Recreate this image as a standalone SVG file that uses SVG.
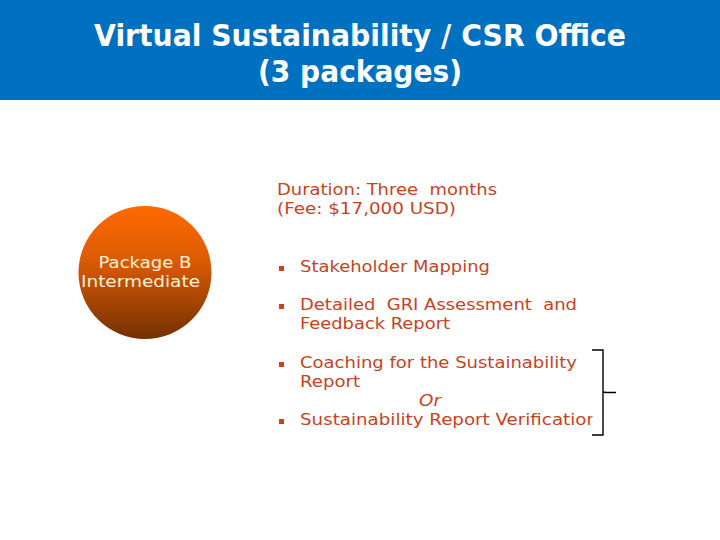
<svg xmlns="http://www.w3.org/2000/svg" width="720" height="540" viewBox="0 0 720 540">
<style>
text{font-family:"DejaVu Sans",Verdana,sans-serif;white-space:pre}
.t{font-size:29.500px;font-weight:bold;fill:#fff;text-anchor:middle}
.b{font-size:16.500px;fill:#c8421c}
.c{font-size:16.500px;fill:#fff2d8;text-anchor:middle}
.m{fill:#d2401c}
.l{fill:none;stroke:#000;stroke-width:1.4}
</style>
<defs><linearGradient id="g" x1="0" y1="0" x2="0" y2="1"><stop offset="0" stop-color="#ff6a00"/><stop offset="0.4" stop-color="#dc5c04"/><stop offset="1" stop-color="#743002"/></linearGradient>
<clipPath id="cut"><rect x="270" y="408" width="322.500" height="26"/></clipPath></defs>
<rect width="720" height="540" fill="#fff"/>
<g id="header"><rect width="720" height="100" fill="#0070c0"/>
<text class="t" x="360" y="46" textLength="532" lengthAdjust="spacingAndGlyphs">Virtual Sustainability / CSR Office</text>
<text class="t" x="360" y="82" textLength="204" lengthAdjust="spacingAndGlyphs">(3 packages)</text></g>
<g id="package-b"><circle cx="145" cy="272.500" r="66.500" fill="url(#g)"/>
<text class="c" x="145" y="268" textLength="93" lengthAdjust="spacingAndGlyphs">Package B</text>
<text class="c" x="140.500" y="287" textLength="119" lengthAdjust="spacingAndGlyphs">Intermediate</text></g>
<g id="details">
<text class="b" x="277" y="195" textLength="220" lengthAdjust="spacingAndGlyphs">Duration: Three  months</text>
<text class="b" x="277" y="214" textLength="179" lengthAdjust="spacingAndGlyphs">(Fee: $17,000 USD)</text>
<rect class="m" x="279" y="266" width="5" height="5"/>
<text class="b" x="300" y="272" textLength="190" lengthAdjust="spacingAndGlyphs">Stakeholder Mapping</text>
<rect class="m" x="279" y="304" width="5" height="5"/>
<text class="b" x="300" y="310" textLength="277" lengthAdjust="spacingAndGlyphs">Detailed  GRI Assessment  and</text>
<text class="b" x="300" y="329" textLength="150" lengthAdjust="spacingAndGlyphs">Feedback Report</text>
<rect class="m" x="279" y="362" width="5" height="5"/>
<text class="b" x="300" y="368" textLength="277" lengthAdjust="spacingAndGlyphs">Coaching for the Sustainability</text>
<text class="b" x="300" y="387" textLength="60" lengthAdjust="spacingAndGlyphs">Report</text>
<text class="b" x="419" y="406" font-style="italic" textLength="22" lengthAdjust="spacingAndGlyphs">Or</text>
<rect class="m" x="279" y="419" width="5" height="5"/>
<text class="b" x="300" y="425" clip-path="url(#cut)" textLength="298" lengthAdjust="spacingAndGlyphs">Sustainability Report Verification</text>
</g>
<g id="connectors"><path class="l" d="M592 350H603V435H592M603 392L606 392.500H616"/></g>
</svg>
